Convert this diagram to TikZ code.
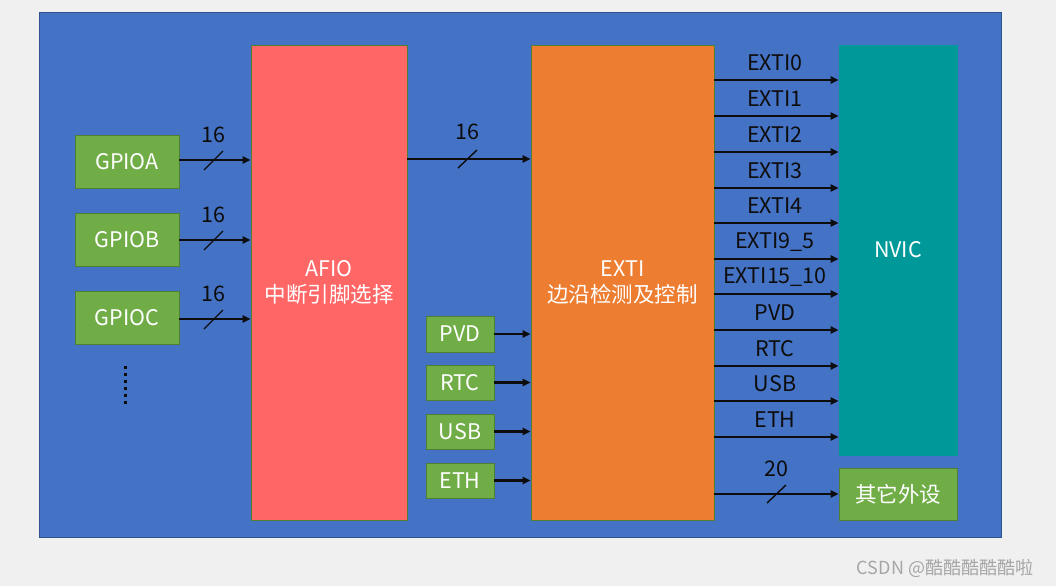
\documentclass[tikz,border=0pt]{standalone}
\usepackage{fontspec}
\setmainfont{Noto Sans CJK SC}
\usetikzlibrary{arrows.meta,calc}
\definecolor{bggray}{HTML}{F0F0F0}
\definecolor{frameblue}{HTML}{4472C4}
\definecolor{frameedge}{HTML}{2F528F}
\definecolor{boxgreen}{HTML}{70AD47}
\definecolor{greenedge}{HTML}{507E32}
\definecolor{afiored}{HTML}{FF6666}
\definecolor{extiorange}{HTML}{ED7D31}
\definecolor{nvicteal}{HTML}{009999}
\definecolor{labeltext}{HTML}{0D0D0D}
\definecolor{wmgray}{HTML}{A6A6A6}
\tikzset{
  txt/.style={font=\fontsize{21.5}{26}\selectfont},
  gbox/.style={draw=greenedge,line width=0.8pt,fill=boxgreen,text=white,inner sep=0pt,txt},
  bigbox/.style={draw=greenedge,line width=0.8pt,text=white,inner sep=0pt,align=center,txt},
  arr/.style={line width=2.4pt,-{Triangle[length=8pt,width=7pt]},labeltext},
  slashmark/.style={line width=1.4pt,labeltext},
  lbl/.style={text=labeltext,txt,inner sep=0pt},
}
\begin{document}
\begin{tikzpicture}[x=1pt,y=-1pt]
\useasboundingbox (0,0) rectangle (1056,586);
\fill[bggray] (0,0) rectangle (1056,586);
\draw[frameedge,fill=frameblue,line width=0.8pt] (39,12) rectangle (1001,537);

% GPIO boxes
\node[gbox,minimum width=104,minimum height=53] (gpioa) at (127,161.5) {GPIOA};
\node[gbox,minimum width=104,minimum height=53] (gpiob) at (127,239.5) {GPIOB};
\node[gbox,minimum width=104,minimum height=53] (gpioc) at (127,317.5) {GPIOC};
\foreach \yy in {367,374,381,388,395,402} \fill[labeltext] (123.5,\yy-1.5) rectangle ++(3,3);

% big blocks
\node[bigbox,fill=afiored,minimum width=156,minimum height=475] (afio) at (329,282.5) {AFIO\\中断引脚选择};
\node[bigbox,fill=extiorange,minimum width=183,minimum height=475] (exti) at (622.5,282.5) {EXTI\\边沿检测及控制};
\node[bigbox,fill=nvicteal,draw=nvicteal,minimum width=118,minimum height=410] (nvic) at (898,250) {NVIC};
\node[gbox,minimum width=118,minimum height=52] (other) at (898,494) {其它外设};

% small sources
\node[gbox,minimum width=68,minimum height=36] (pvd) at (460,334) {PVD};
\node[gbox,minimum width=68,minimum height=35] (rtc) at (460,382.5) {RTC};
\node[gbox,minimum width=68,minimum height=35] (usb) at (460,431.5) {USB};
\node[gbox,minimum width=68,minimum height=35] (eth) at (460,480.5) {ETH};

% GPIO -> AFIO
\foreach \n/\yy in {gpioa/160,gpiob/240,gpioc/319}{
  \draw[arr] (\n.east |- 0,\yy) -- (afio.west |- 0,\yy);
  \draw[slashmark] (204,\yy+10) -- (223,\yy-9);
  \node[lbl] at (213,\yy-25) {16};
}
% AFIO -> EXTI
\draw[arr] (afio.east |- 0,159) -- (exti.west |- 0,159);
\draw[slashmark] (458,168) -- (477,150);
\node[lbl] (l16) at (467,132) {16};

% sources -> EXTI
\foreach \n in {pvd,rtc,usb,eth}{
  \draw[arr] (\n.east) -- (exti.west |- \n.east);
}

% EXTI -> NVIC
\foreach \yy/\t in {80/EXTI0,116/EXTI1,152/EXTI2,188/EXTI3,223/EXTI4,259/EXTI9\_5,294/EXTI15\_10,330/PVD,366/RTC,401/USB,437/ETH}{
  \draw[arr] (exti.east |- 0,\yy) -- (nvic.west |- 0,\yy);
  \node[lbl] at (775,\yy-17) {\t};
}
% EXTI -> other
\draw[arr] (exti.east |- other.west) -- (other.west);
\draw[slashmark] (767,503) -- (786,485);
\node[lbl] at (776,469) {20};

% watermark
\node[text=wmgray,font=\fontsize{18}{20}\selectfont,inner sep=0pt] (wm) at (945,568) {CSDN @酷酷酷酷酷啦};
\end{tikzpicture}
\end{document}
